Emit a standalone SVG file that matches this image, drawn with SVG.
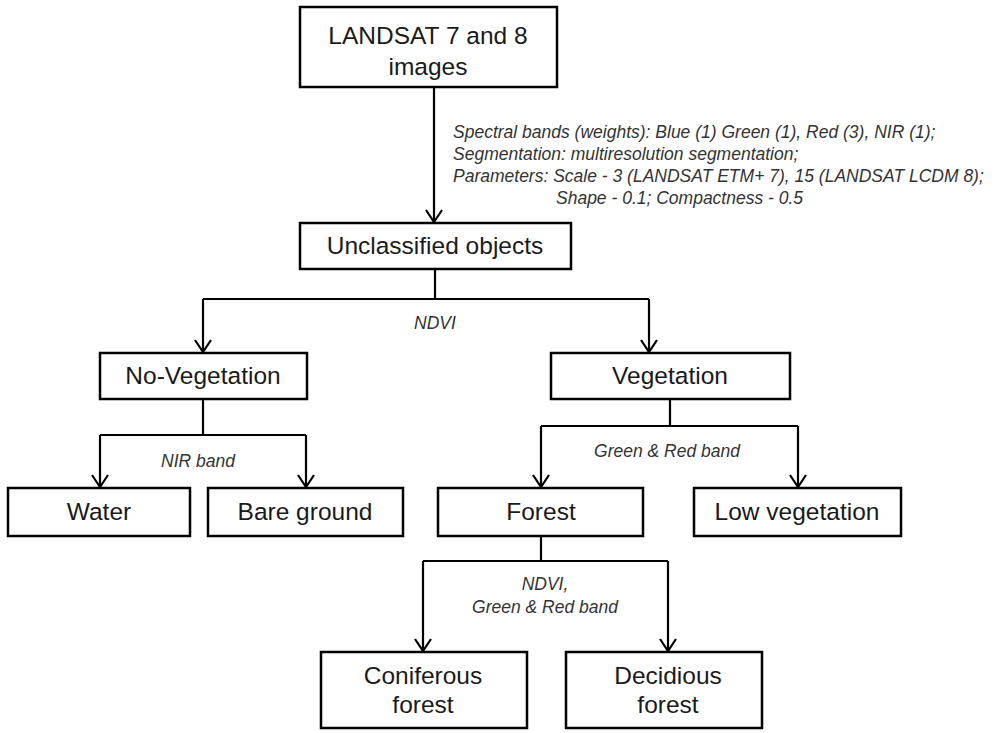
<svg xmlns="http://www.w3.org/2000/svg" width="997" height="733" viewBox="0 0 997 733">
<style>
.box{fill:#fff;stroke:#000;stroke-width:2.5}
.t{font-family:"Liberation Sans",Arial,sans-serif;font-size:24.5px;fill:#1a1a1a;text-anchor:middle}
.lbl{font-family:"Liberation Sans",Arial,sans-serif;font-size:17.5px;font-style:italic;fill:#333}
.c{text-anchor:middle}
.ln{fill:none;stroke:#000;stroke-width:2.2}
</style>
<defs>
<marker id="arr" viewBox="0 0 16 20" refX="14" refY="10" markerWidth="16" markerHeight="20" markerUnits="userSpaceOnUse" orient="auto">
<path d="M2 2 L14 10 L2 18" fill="none" stroke="#000" stroke-width="2.2"/>
</marker>
</defs>
<rect width="997" height="733" fill="#fff"/>
<g id="connectors">
<path class="ln" d="M434 87 V222" marker-end="url(#arr)"/>
<path class="ln" d="M435 269 V299 M203 299 H649"/>
<path class="ln" d="M203 299 V352" marker-end="url(#arr)"/>
<path class="ln" d="M649 299 V352" marker-end="url(#arr)"/>
<path class="ln" d="M203 399 V435 M100 435 H306"/>
<path class="ln" d="M100 435 V487" marker-end="url(#arr)"/>
<path class="ln" d="M306 435 V487" marker-end="url(#arr)"/>
<path class="ln" d="M670 399 V426 M541 426 H798"/>
<path class="ln" d="M541 426 V487" marker-end="url(#arr)"/>
<path class="ln" d="M798 426 V487" marker-end="url(#arr)"/>
<path class="ln" d="M541 536 V561 M423 561 H668"/>
<path class="ln" d="M423 561 V651" marker-end="url(#arr)"/>
<path class="ln" d="M668 561 V651" marker-end="url(#arr)"/>
</g>
<g id="labels">
<text class="lbl" x="453" y="138">Spectral bands (weights): Blue (1) Green (1), Red (3), NIR (1);</text>
<text class="lbl" x="453" y="160">Segmentation: multiresolution segmentation;</text>
<text class="lbl" x="453" y="182">Parameters: Scale - 3 (LANDSAT ETM+ 7), 15 (LANDSAT LCDM 8);</text>
<text class="lbl" x="556" y="204">Shape - 0.1; Compactness - 0.5</text>
<text class="lbl c" x="435" y="329">NDVI</text>
<text class="lbl c" x="198" y="467">NIR band</text>
<text class="lbl c" x="667" y="457">Green &amp; Red band</text>
<text class="lbl c" x="545" y="590">NDVI,</text>
<text class="lbl c" x="545" y="613">Green &amp; Red band</text>
</g>
<g id="landsat"><rect class="box" x="300" y="7" width="257" height="80"/><text class="t" x="428" y="44">LANDSAT 7 and 8</text><text class="t" x="428" y="75">images</text></g>
<g id="unclassified"><rect class="box" x="300" y="223" width="271" height="46"/><text class="t" x="435" y="254">Unclassified objects</text></g>
<g id="noveg"><rect class="box" x="100" y="353" width="207" height="46"/><text class="t" x="203" y="384">No-Vegetation</text></g>
<g id="veg"><rect class="box" x="551" y="353" width="239" height="46"/><text class="t" x="670" y="384">Vegetation</text></g>
<g id="water"><rect class="box" x="8" y="488" width="182" height="48"/><text class="t" x="99" y="520">Water</text></g>
<g id="bare"><rect class="box" x="208" y="488" width="195" height="48"/><text class="t" x="305" y="520">Bare ground</text></g>
<g id="forest"><rect class="box" x="438" y="488" width="205" height="48"/><text class="t" x="541" y="520">Forest</text></g>
<g id="lowveg"><rect class="box" x="694" y="488" width="207" height="48"/><text class="t" x="797" y="520">Low vegetation</text></g>
<g id="coniferous"><rect class="box" x="321" y="652" width="206" height="76"/><text class="t" x="423" y="684">Coniferous</text><text class="t" x="423" y="713">forest</text></g>
<g id="decidious"><rect class="box" x="566" y="652" width="196" height="76"/><text class="t" x="668" y="684">Decidious</text><text class="t" x="668" y="713">forest</text></g>
</svg>
